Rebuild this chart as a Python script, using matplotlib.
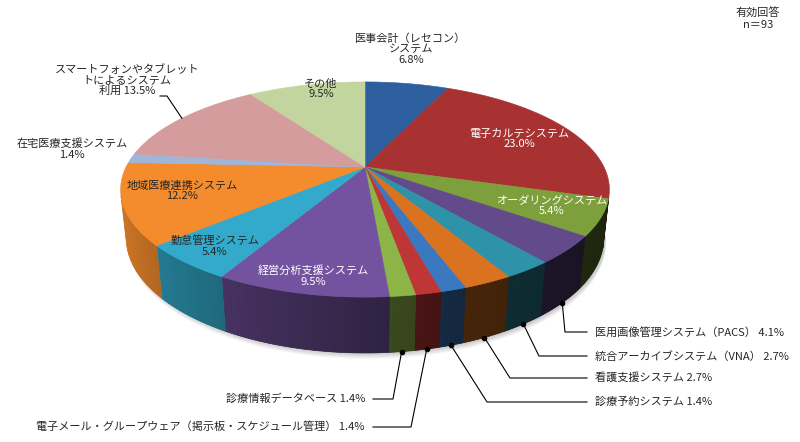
import numpy as np
import matplotlib.pyplot as plt
from matplotlib.colors import to_rgb

plt.rcParams['font.family'] = ['Noto Sans CJK JP', 'DejaVu Sans']

labels = ['医事会計（レセコン）\nシステム', '電子カルテシステム', 'オーダリングシステム',
          '医用画像管理システム（PACS）', '統合アーカイブシステム（VNA）', '看護支援システム',
          '診療予約システム', '電子メール・グループウェア（掲示板・スケジュール管理）',
          '診療情報データベース', '経営分析支援システム', '勤怠管理システム',
          '地域医療連携システム', '在宅医療支援システム',
          'スマートフォンやタブレット\nトによるシステム\n利用', 'その他']
values = [6.8, 23.0, 5.4, 4.1, 2.7, 2.7, 1.4, 1.4, 1.4, 9.5, 5.4, 12.2, 1.4, 13.5, 9.5]
colors = ['#2D5E9E', '#A83232', '#7EA03C', '#634A8A', '#2E92A8', '#D9731F',
          '#3B78C0', '#BF3636', '#8DB447', '#7353A0', '#33AACB', '#F48C2E',
          '#9FB5DA', '#D49C9C', '#C3D59E']
note = '有効回答\nn＝93'

# camera / pie geometry (pixel space)
CX, CY = 365, 167
ELEV = np.radians(25.5)
DIST = 4.31
FOCAL = 1030
THICK = 0.224
TXT = '#262626'
FS = 8.0


def project(x, y, z):
    c, s = np.cos(ELEV), np.sin(ELEV)
    depth = DIST + y * c - z * s
    up = y * s + z * c
    return CX + FOCAL * x / depth, CY - FOCAL * up / depth


def ring(theta, z):
    return project(np.sin(theta), np.cos(theta), z)


def visible(theta):
    return np.cos(theta) < -1.0 / (DIST * np.cos(ELEV))


def side_shade(theta):
    # darker on the right, lit on the left
    return float(np.interp(np.degrees(theta), [105, 160, 190, 250], [0.22, 0.32, 0.5, 0.85]))


fig = plt.figure(figsize=(8, 4.42), dpi=100)
ax = fig.add_axes([0, 0, 1, 1])
ax.set_xlim(0, 800)
ax.set_ylim(442, 0)
ax.axis('off')

frac = np.array(values) / sum(values)
edges = np.concatenate([[0], np.cumsum(frac)]) * 2 * np.pi
mids = (edges[:-1] + edges[1:]) / 2

# soft shadow under the pie
tt = np.linspace(0, 2 * np.pi, 300)
bx, by = ring(tt, -THICK)
for k in range(6):
    ax.fill(bx + 2, by + 1 + k, color='#000000', alpha=0.035, lw=0)

# side walls: one solid piece per slice, then a gradient overlay
for i in range(len(values)):
    t = np.linspace(edges[i], edges[i + 1], max(3, int(np.degrees(edges[i + 1] - edges[i])) + 2))
    t = t[visible(t)]
    if len(t) < 2:
        continue
    base = np.array(to_rgb(colors[i]))
    x1, y1 = ring(t, 0)
    x2, y2 = ring(t[::-1], -THICK)
    col = base * side_shade(t.mean())
    ax.fill(np.r_[x1, x2], np.r_[y1, y2], color=col, lw=0.5, ec=col)
    for a, b in zip(t[:-1], t[1:]):
        sx1, sy1 = ring(np.array([a, b]), 0)
        sx2, sy2 = ring(np.array([b, a]), -THICK)
        c2 = base * side_shade((a + b) / 2)
        ax.fill(np.r_[sx1, sx2], np.r_[sy1, sy2], color=c2, lw=0)

# top faces
for i in range(len(values)):
    t = np.linspace(edges[i], edges[i + 1], 60)
    x, y = ring(t, 0)
    ax.fill(np.r_[CX, x], np.r_[CY, y], color=colors[i], ec=colors[i], lw=0.4)

# labels placed around / on the pie
inside = {
    0: (411, 49, TXT), 1: (519, 139, 'white'), 2: (552, 206, 'white'),
    9: (313, 276, 'white'), 10: (215, 246, TXT), 11: (182, 191, TXT),
    12: (72, 149, TXT), 13: (127, 80, TXT), 14: (321, 89, TXT),
}
for i, (x, y, c) in inside.items():
    sep = ' ' if i == 13 else '\n'
    ax.text(x, y, labels[i] + sep + '%.1f%%' % values[i], ha='center', va='center',
            color=c, fontsize=FS, linespacing=1.08)

# leader for smartphone label
px, py = ring(mids[13], 0)
ax.plot([160, 167, px], [96, 96, py], color='black', lw=0.8)

# right-hand leaders
right = {3: (565, 332), 4: (539, 356), 5: (510, 378), 6: (487, 402)}
for i, (ex, ey) in right.items():
    dx, dy = ring(mids[i], -THICK)
    ax.plot([dx, ex, 587], [dy, ey, ey], color='black', lw=0.8)
    ax.plot(dx, dy, 'o', color='black', ms=3)
    ax.text(595, ey, '%s %.1f%%' % (labels[i], values[i]), ha='left', va='center',
            color=TXT, fontsize=FS)

# left-hand leaders
left = {8: (393, 399), 7: (411, 427)}
for i, (ex, ey) in left.items():
    dx, dy = ring(mids[i], -THICK)
    ax.plot([dx, ex, 373], [dy, ey, ey], color='black', lw=0.8)
    ax.plot(dx, dy, 'o', color='black', ms=3)
    ax.text(365, ey, '%s %.1f%%' % (labels[i], values[i]), ha='right', va='center',
            color=TXT, fontsize=FS)

ax.text(758, 19, note, ha='center', va='center', color=TXT, fontsize=FS, linespacing=1.08)

fig.savefig('out.png', dpi=100)
